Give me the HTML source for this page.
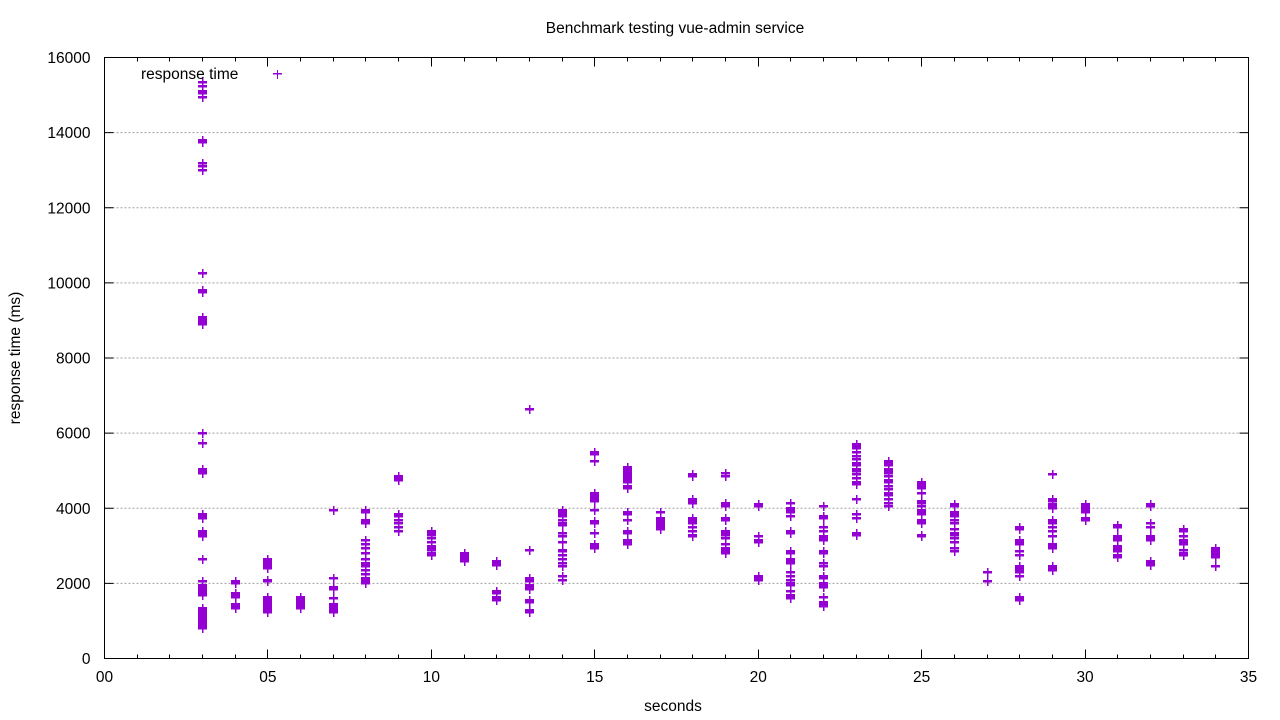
<!DOCTYPE html>
<html><head><meta charset="utf-8"><style>
html,body{margin:0;padding:0;background:#fff;}
svg{display:block;font-family:"Liberation Sans",sans-serif;}
</style></head><body>
<svg id="chart" width="1280" height="720">
<text x="675" y="33" text-anchor="middle" font-size="15.5" fill="#000">Benchmark testing vue-admin service</text>
<text x="0" y="0" transform="translate(20,358) rotate(-90)" text-anchor="middle" font-size="15.5">response time (ms)</text>
<text x="673" y="711" text-anchor="middle" font-size="15.5">seconds</text>
<g id="grid"></g>
<g id="axes"></g>
<g id="marks" shape-rendering="crispEdges"></g>
<g>
<text x="141" y="79" font-size="15.5">response time</text>
<g shape-rendering="crispEdges" fill="#9400d3"><rect x="273" y="73" width="9" height="1.5"/><rect x="277" y="70" width="1" height="9"/></g>
</g>
<rect x="104.5" y="57.5" width="1144" height="601" fill="none" stroke="#000" stroke-width="1"/>
</svg>
<script>
const xTicks = [0,5,10,15,20,25,30,35];
const xTickLabels = ["00","05","10","15","20","25","30","35"];
const yTicks = [0,2000,4000,6000,8000,10000,12000,14000,16000];
const seconds = [3,4,5,6,7,8,9,10,11,12,13,14,15,16,17,18,19,20,21,22,23,24,25,26,27,28,29,30,31,32,33,34];
const responseTimes = [
[15350,15250,15100,15050,14950,13800,13750,13200,13100,13000,10250,9800,9750,9100,9050,9000,8950,8900,6000,5750,5050,5000,4950,3850,3800,3750,3400,3350,3300,3250,2650,2050,1950,1900,1850,1800,1750,1700,1350,1300,1250,1200,1150,1100,1050,1000,950,900,850,800],
[2050,2000,1750,1700,1650,1450,1400,1350],
[2650,2600,2550,2500,2450,2400,2100,2050,1650,1600,1550,1500,1450,1400,1350,1300,1250],
[1650,1600,1550,1500,1450,1400,1350],
[3950,2150,1900,1850,1600,1450,1400,1350,1300,1250],
[3950,3900,3700,3650,3600,3150,3050,2950,2800,2650,2550,2500,2450,2350,2250,2150,2100,2050,2000],
[4850,4800,4750,3850,3800,3700,3600,3500,3400],
[3400,3350,3300,3200,3100,3000,2950,2900,2800,2750],
[2800,2750,2700,2650,2600],
[2600,2550,2500,1800,1750,1650,1600,1550],
[6650,2900,2150,2100,2050,1950,1900,1850,1550,1500,1300,1250],
[3950,3900,3850,3800,3700,3600,3550,3350,3250,3100,2900,2850,2750,2650,2550,2450,2200,2100],
[5500,5450,5250,4400,4350,4300,4250,4200,3950,3650,3600,3350,3050,3000,2950],
[5100,5050,5000,4950,4900,4850,4800,4750,4700,4600,4550,3900,3850,3700,3400,3350,3150,3100,3050],
[3900,3750,3700,3650,3600,3550,3500,3450],
[4900,4850,4250,4200,4150,3750,3700,3650,3600,3500,3400,3300,3250],
[4950,4850,4150,4100,4050,3750,3700,3400,3350,3300,3200,3050,2950,2900,2850,2800],
[4100,4050,3250,3150,3100,2200,2150,2100],
[4150,4000,3950,3900,3800,3400,3350,2850,2800,2650,2600,2550,2300,2200,2100,2000,1950,1800,1700,1650,1600],
[4050,3800,3750,3500,3400,3250,3200,3150,2850,2800,2550,2450,2200,2150,2000,1950,1900,1650,1500,1450,1400],
[5700,5650,5600,5500,5400,5300,5200,5150,5050,5000,4900,4800,4700,4650,4250,3850,3750,3350,3300],
[5250,5200,5150,5050,5000,4950,4850,4750,4700,4600,4500,4400,4350,4250,4150,4050],
[4700,4650,4600,4550,4400,4200,4150,4050,3950,3900,3850,3700,3650,3600,3300,3250],
[4100,4050,3900,3850,3800,3700,3600,3450,3350,3300,3200,3100,2950,2850],
[2300,2050],
[3500,3450,3150,3100,3050,2850,2750,2450,2400,2350,2300,2200,1650,1600,1550],
[4900,4250,4200,4100,4050,4000,3700,3650,3600,3500,3400,3250,3050,3000,2950,2450,2400,2350],
[4100,4050,4000,3950,3900,3750,3700],
[3550,3500,3250,3200,3150,3000,2950,2900,2850,2750,2700],
[4100,4050,3600,3500,3250,3200,3150,2600,2550,2500],
[3450,3400,3250,3150,3100,3050,2900,2800,2750],
[2950,2900,2850,2800,2750,2700,2450]
];
const NS="http://www.w3.org/2000/svg";
const L=104.5,R=1248.5,T=57.5,B=658.5;
const xs=v=>L+(v/35)*(R-L);
const ys=v=>B-(v/16000)*(B-T);
function mk(tag,attrs,parent){const e=document.createElementNS(NS,tag);for(const k in attrs)e.setAttribute(k,attrs[k]);parent.appendChild(e);return e;}
const grid=document.getElementById('grid'),axes=document.getElementById('axes'),marks=document.getElementById('marks');
yTicks.forEach(v=>{
  const y=ys(v);
  if(v>0&&v<16000){const g=mk('line',{x1:L,x2:R,y1:y,y2:y,stroke:'#a0a0a0','stroke-dasharray':'2,2','stroke-width':1},grid);
  
  }
  mk('line',{x1:L,x2:L+9,y1:y,y2:y,stroke:'#000'},axes);
  mk('line',{x1:R-9,x2:R,y1:y,y2:y,stroke:'#000'},axes);
  const t=mk('text',{x:L-14,y:y+5.5,'text-anchor':'end','font-size':15.5},axes);
  t.textContent=v;
  
  
});
for(let s=0;s<=35;s++){
  const x=Math.round(xs(s)-0.5)+0.5;
  const len=(s%5===0)?9:4;
  mk('line',{x1:x,x2:x,y1:B,y2:B-len,stroke:'#000'},axes);
  mk('line',{x1:x,x2:x,y1:T,y2:T+len,stroke:'#000'},axes);
}
xTicks.forEach((v,i)=>{
  const t=mk('text',{x:xs(v),y:682,'text-anchor':'middle','font-size':15.5},axes);
  t.textContent=xTickLabels[i];
  
  
});
seconds.forEach((s,i)=>{
  const x=Math.round(xs(s)-0.5);
  responseTimes[i].forEach(v=>{
    const y=Math.round(ys(v));
    const g=mk('g',{fill:'#9400d3'},marks);
    
    
    mk('rect',{x:x-4,y:y-1,width:9,height:2.5},g);
    mk('rect',{x:x,y:y-4,width:1.5,height:9},g);
  });
});
</script>
</body></html>
